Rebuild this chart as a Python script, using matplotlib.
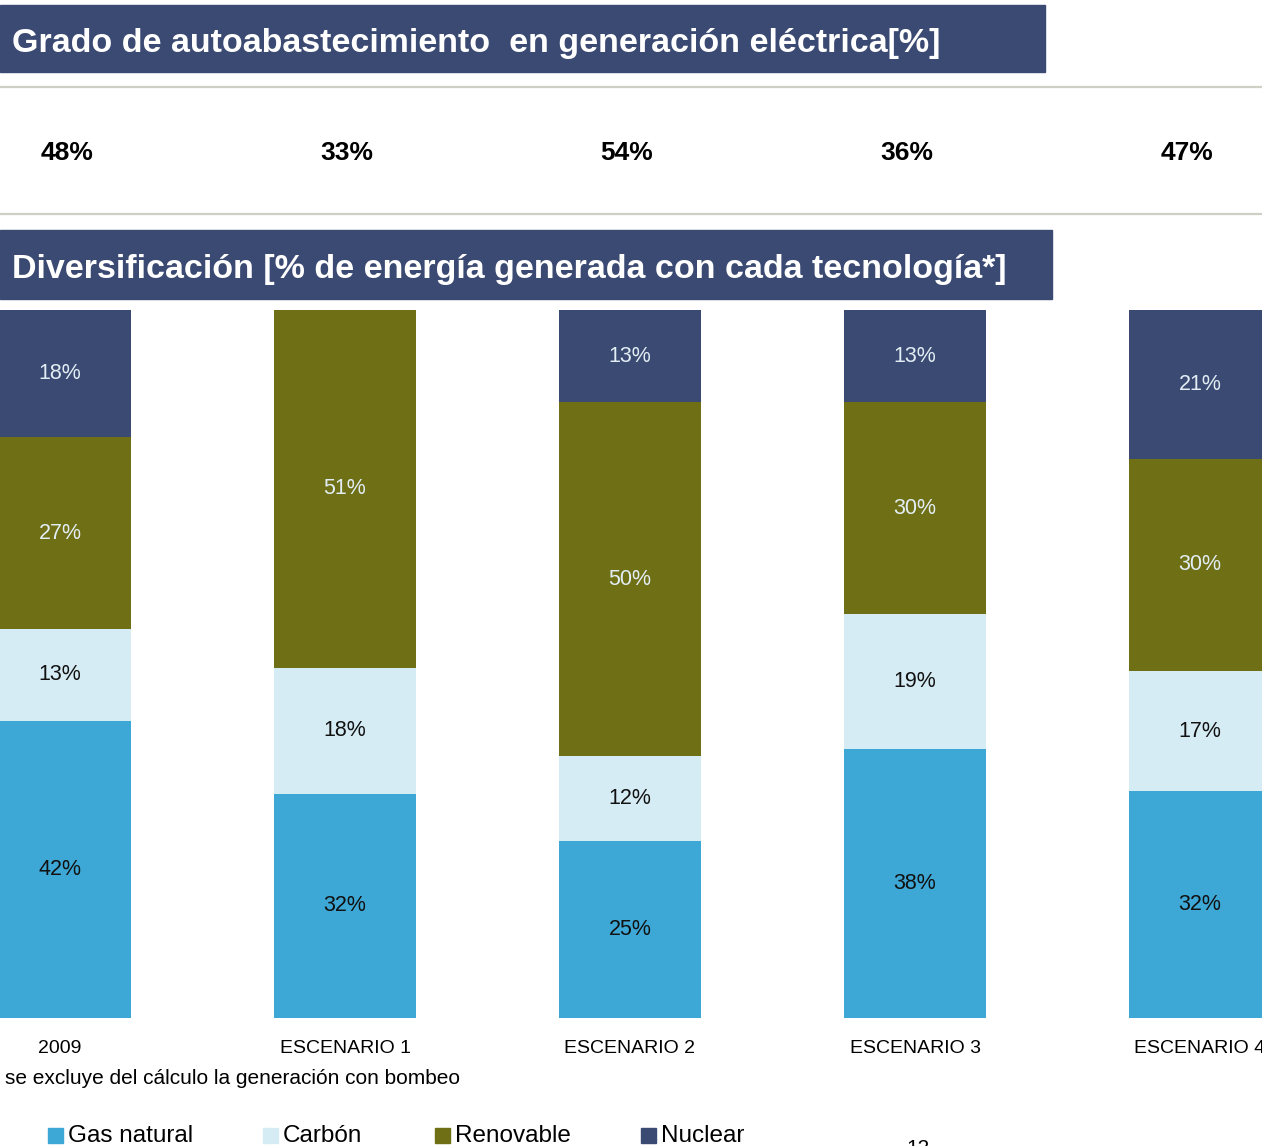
import numpy as np
import matplotlib.pyplot as plt
from matplotlib.patches import Rectangle

plt.rcParams['font.family'] = ['Liberation Sans', 'DejaVu Sans']

# datos
categorias = ["2009", "ESCENARIO 1", "ESCENARIO 2", "ESCENARIO 3", "ESCENARIO 4"]
autoabastecimiento = [48, 33, 54, 36, 47]
gas_natural = [42, 32, 25, 38, 32]
carbon = [13, 18, 12, 19, 17]
renovable = [27, 51, 50, 30, 30]
nuclear = [18, 0, 13, 13, 21]

tecnologias = ["Gas natural", "Carbón", "Renovable", "Nuclear"]
colores = ["#3DA7D6", "#D6ECF5", "#6F6F16", "#3B4A72"]
color_texto = ["#111111", "#111111", "#E2EEF4", "#E2EEF4"]

W, H = 1262, 1146
fig = plt.figure(figsize=(W / 100, H / 100), dpi=100)


def fx(x):
    return x / W


def fy(y):
    return 1 - y / H


def banner(x0, y0, x1, y1, texto):
    fig.patches.append(Rectangle((fx(x0), fy(y1)), fx(x1) - fx(x0), fy(y0) - fy(y1),
                                 transform=fig.transFigure, color="#3B4A72", zorder=0))
    fig.text(fx(12), fy((y0 + y1) / 2 + 5), texto, color="white", fontsize=24.5,
             fontweight="bold", va="center", ha="left")


def linea(y):
    fig.add_artist(plt.Line2D([0, 1], [fy(y), fy(y)], transform=fig.transFigure,
                              color="#CFCFC6", linewidth=1.6))


# cabecera 1
banner(0, 5, 1045, 72, "Grado de autoabastecimiento  en generación eléctrica[%]")
linea(87)
linea(214)
for i, v in enumerate(autoabastecimiento):
    fig.text(fx(67 + 280 * i), fy(153), f"{v}%", fontsize=19, fontweight="bold",
             ha="center", va="center", color="black")

# cabecera 2
banner(0, 230, 1052, 299, "Diversificación [% de energía generada con cada tecnología*]")

# barras apiladas
ax = fig.add_axes([0, fy(1018), 1, fy(310) - fy(1018)])
datos = np.array([gas_natural, carbon, renovable, nuclear], dtype=float)
alturas = datos / datos.sum(axis=0) * 100
x = np.arange(len(categorias))
base = np.zeros(len(categorias))
for k in range(len(tecnologias)):
    ax.bar(x, alturas[k], bottom=base, width=0.5, color=colores[k], linewidth=0)
    for i in range(len(categorias)):
        if datos[k, i] > 0:
            ax.text(x[i], base[i] + alturas[k, i] / 2, f"{int(datos[k, i])}%",
                    ha="center", va="center", fontsize=15.5, color=color_texto[k])
    base += alturas[k]

ax.set_xlim(-60 / 285, (W - 60) / 285)
ax.set_ylim(0, 100)
ax.set_yticks([])
ax.set_xticks(x)
ax.set_xticklabels(categorias, fontsize=14)
ax.tick_params(axis="x", length=0, pad=16)
for s in ax.spines.values():
    s.set_visible(False)
ax.patch.set_alpha(0)

# nota
fig.text(fx(5), fy(1078), "se excluye del cálculo la generación con bombeo",
         fontsize=15, ha="left", va="center")

# leyenda
leg_x = [48, 263, 435, 641]
for xs, nombre, c in zip(leg_x, tecnologias, colores):
    fig.patches.append(Rectangle((fx(xs), fy(1143)), fx(15), 15 / H,
                                 transform=fig.transFigure, color=c))
    fig.text(fx(xs + 20), fy(1136), nombre, fontsize=17.5, ha="left", va="center")

fig.text(fx(918), fy(1148), "12", fontsize=15, ha="center", va="center")

fig.savefig("out.png", dpi=100)
